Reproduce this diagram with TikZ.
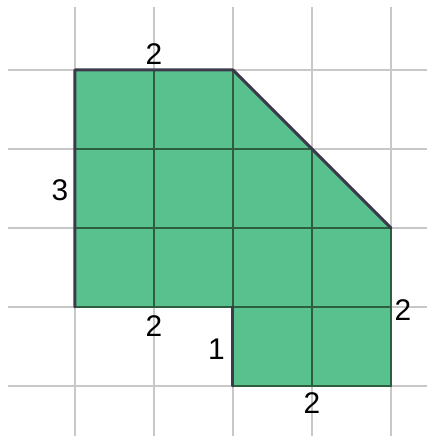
\documentclass[tikz,border=0pt]{standalone}
\usepackage{fontspec}
\setmainfont{Liberation Sans}
\usepackage{tikz}
\usetikzlibrary{positioning}
\definecolor{shapefill}{HTML}{58C18E}
\definecolor{innerline}{HTML}{2D5E3E}
\definecolor{edgeline}{HTML}{3A3A4A}
\definecolor{gridgray}{HTML}{C8C8C8}

\begin{document}
\begin{tikzpicture}[x=79bp,y=79bp,
	gridline/.style={draw=gridgray, line width=1.5bp},
	innerstroke/.style={draw=innerline, line width=2bp},
	outerstroke/.style={draw=edgeline, line width=3bp, line cap=round, line join=round},
	sidelabel/.style={inner sep=0pt, font=\fontsize{30}{33}\selectfont},
	]
	\useasboundingbox (-0.949,-0.633) rectangle (4.456,4.886);
	
	%Grid
	\foreach \y in {0,...,4}
		\draw[gridline] (-0.848,\y) -- (4.456,\y);
	\foreach \x in {0,...,4}
		\draw[gridline] (\x,-0.633) -- (\x,4.797);
	
	%Corners
	\coordinate (TL) at (0,4);
	\coordinate (TM) at (2,4);
	\coordinate (RT) at (4,2);
	\coordinate (BR) at (4,0);
	\coordinate (BM) at (2,0);
	\coordinate (NK) at (2,1);
	\coordinate (BL) at (0,1);
	
	%Shape
	\fill[shapefill] (TL) -- (TM) -- (RT) -- (BR) -- (BM) -- (NK) -- (BL) -- cycle;
	\draw[innerstroke] (1,1) -- (1,4);
	\draw[innerstroke] (2,1) -- (2,4);
	\draw[innerstroke] (3,0) -- (3,3);
	\draw[innerstroke] (0,3) -- (3,3);
	\draw[innerstroke] (0,2) -- (RT);
	\draw[innerstroke] (NK) -- (4,1);
	\draw[innerstroke] (BL) -- (NK);
	\draw[innerstroke] (RT) -- (BR) -- (BM);
	\draw[outerstroke] (BL) -- (TL) -- (TM) -- (RT);
	\draw[outerstroke] (BM) -- (NK);
	
	%Nodes
	\node[sidelabel] (TopLen) at (1,4.2) {2};
	\node[sidelabel] (LeftLen) at (-0.19,2.48) {3};
	\node[sidelabel] (StepLen) at (1,0.76) {2};
	\node[sidelabel] (NotchLen) at (1.79,0.46) {1};
	\node[sidelabel] (RightLen) at (4.15,0.96) {2};
	\node[sidelabel] (BaseLen) at (3,-0.22) {2};
	
\end{tikzpicture}
\end{document}
